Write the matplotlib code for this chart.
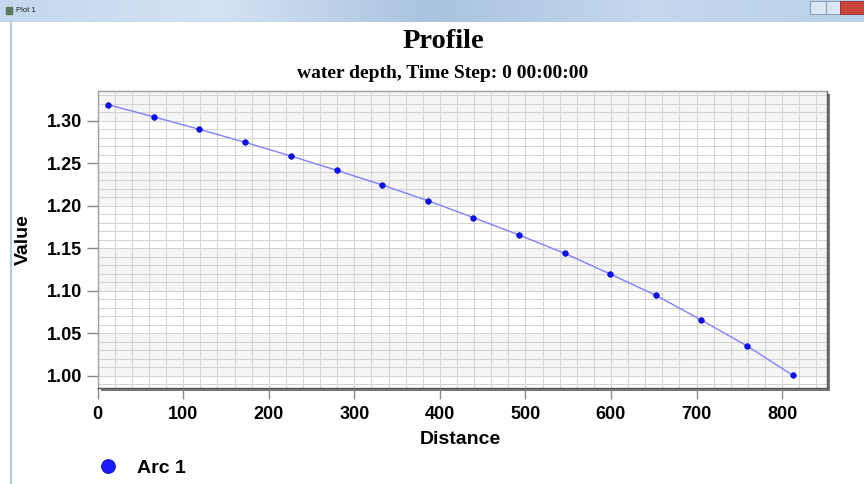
import matplotlib
matplotlib.use("Agg")
import matplotlib.pyplot as plt
import numpy as np
from matplotlib.patches import Rectangle
from matplotlib.lines import Line2D
from matplotlib.ticker import MultipleLocator
from matplotlib.colors import LinearSegmentedColormap

# ---- data ----
distance = [12.4, 66.2, 118.8, 172.2, 226.0, 279.4, 332.7, 386.1,
            439.1, 492.9, 546.0, 599.3, 652.7, 705.6, 759.4, 812.8]
value = [1.3188, 1.3044, 1.2899, 1.2746, 1.2584, 1.2416, 1.2243, 1.2058,
         1.1860, 1.1654, 1.1438, 1.1194, 1.0944, 1.0653, 1.0346, 1.0001]
series_name = "Arc 1"
x_ticks = [0, 100, 200, 300, 400, 500, 600, 700, 800]
y_ticks = [1.00, 1.05, 1.10, 1.15, 1.20, 1.25, 1.30]
band_edges = [(1.00, 1.05), (1.10, 1.15), (1.20, 1.25), (1.30, 1.40)]

W, H = 864, 484
fig = plt.figure(figsize=(W / 100, H / 100), dpi=100)
fig.patch.set_facecolor("white")

def fx(px):
    return px / W

def fy(py):
    return 1 - py / H

SANS = ["Liberation Sans", "DejaVu Sans"]
SERIF = ["Liberation Serif", "DejaVu Serif"]

# ---- window chrome ----
tb = fig.add_axes([0, fy(22), 1, 22 / H])
grad = np.linspace(0, 1, 256).reshape(1, -1)
cmap = LinearSegmentedColormap.from_list("tb", ["#c3d8ee", "#d3e3f3", "#a9c3e0", "#c4d8ee", "#b9d0ea"])
tb.imshow(grad, aspect="auto", cmap=cmap, extent=[0, 1, 0, 1])
tb.set_xlim(0, 1); tb.set_ylim(0, 1)
tb.axis("off")
tb.add_patch(Rectangle((fx(6), 0.35), 6 / W, 0.35, color="#5a7a5a"))
tb.text(fx(16), 0.52, "Plot 1", fontsize=5.5, va="center", ha="left", family=SANS, color="#222222")
tb.add_patch(Rectangle((fx(810), 0.35), 16 / W, 0.62, facecolor="#dbe7f4", edgecolor="#7d92aa", lw=0.6))
tb.add_patch(Rectangle((fx(826), 0.35), 14 / W, 0.62, facecolor="#dbe7f4", edgecolor="#7d92aa", lw=0.6))
tb.add_patch(Rectangle((fx(840), 0.35), 24 / W, 0.62, facecolor="#c9463d", edgecolor="#8a3030", lw=0.6))
tb.add_artist(Line2D([0, 1], [0.02, 0.02], color="#9fb4cc", lw=0.8))
fig.add_artist(Line2D([fx(11), fx(11)], [0, fy(22)], color="#b3cbe5", lw=1.5))

# ---- plot area ----
left, right, top, bottom = 97.7, 826.7, 91, 388
# shadow
fig.add_artist(Rectangle((fx(left + 3), fy(bottom + 3)), (right - left) / W, (bottom - top) / H,
                         facecolor="#7a7a7a", edgecolor="none", zorder=0))
ax = fig.add_axes([fx(left), fy(bottom), (right - left) / W, (bottom - top) / H], zorder=1)
ax.set_facecolor("white")
ax.set_xlim(0, 852.2)
ax.set_ylim(0.9853, 1.335)

for lo, hi in band_edges:
    ax.axhspan(lo, hi, color="#f5f5f5", zorder=0, lw=0)

ax.xaxis.set_minor_locator(MultipleLocator(20))
ax.yaxis.set_minor_locator(MultipleLocator(0.01))
ax.set_xticks(x_ticks)
ax.set_yticks(y_ticks)
ax.set_xticklabels([str(t) for t in x_ticks])
ax.set_yticklabels([f"{t:.2f}" for t in y_ticks])
ax.grid(which="both", color="#d4d4d4", lw=0.75, zorder=0.5)
ax.set_axisbelow(True)
ax.tick_params(which="minor", length=0)
ax.tick_params(which="major", direction="out", length=8, width=1, color="#888888",
               labelsize=13, pad=3)
ax.tick_params(axis="x", which="major", pad=5)
for lab in ax.get_xticklabels() + ax.get_yticklabels():
    lab.set_fontweight("bold")
    lab.set_family(SANS)
for s in ax.spines.values():
    s.set_color("#a0a0a0")
    s.set_linewidth(1)
ax.spines["bottom"].set_color("#555555")
ax.spines["right"].set_color("#555555")

ax.plot(distance, value, color="#8080ff", lw=1, zorder=3)
ax.plot(distance, value, ls="none", marker="o", markersize=4, color="#1010ff",
        markeredgecolor="#0000c0", markeredgewidth=0.5, zorder=4)

ax.set_xlabel("Distance", fontsize=14, fontweight="bold", family=SANS)
ax.set_ylabel("Value", fontsize=14, fontweight="bold", family=SANS)
ax.xaxis.set_label_coords(0.498, (bottom - 439) / (bottom - top))
ax.xaxis.label.set_verticalalignment("center")
ax.yaxis.set_label_coords((23 - left) / (right - left), 0.5)
ax.yaxis.label.set_verticalalignment("center")

# ---- titles ----
fig.text(fx(443), fy(42), "Profile", fontsize=20.5, fontweight="bold", family=SERIF,
         ha="center", va="center")
fig.text(fx(443), fy(73.5), "water depth, Time Step: 0 00:00:00", fontsize=14,
         fontweight="bold", family=SERIF, ha="center", va="center")

# ---- legend ----
handle = Line2D([], [], ls="none", marker="o", markersize=10, color="#1a1aff",
                markeredgecolor="#0000b0", markeredgewidth=0.5)
leg = fig.legend([handle], [series_name], loc="center left",
                 bbox_to_anchor=(fx(98.3), fy(468)), frameon=False,
                 handlelength=1.0, handletextpad=1.0, borderpad=0, borderaxespad=0,
                 prop={"family": SANS, "weight": "bold", "size": 14})

fig.savefig("out.png", dpi=100)
